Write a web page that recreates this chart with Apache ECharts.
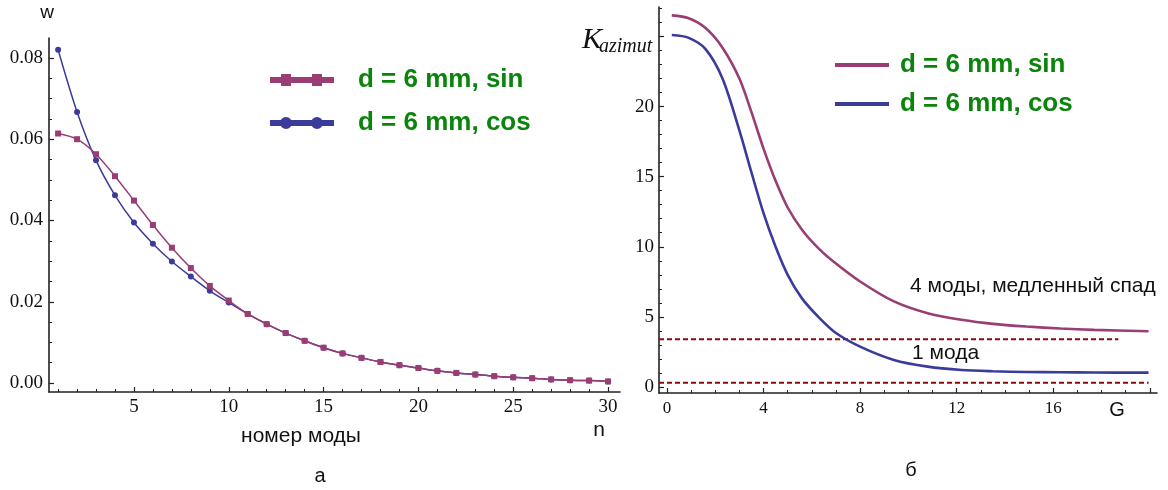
<!DOCTYPE html>
<html>
<head>
<meta charset="utf-8">
<script src="https://cdn.jsdelivr.net/npm/echarts@6/dist/echarts.min.js"></script>
<style>
html,body{margin:0;padding:0;background:#fff;}
#chart{width:1168px;height:490px;}
</style>
</head>
<body>
<div id="chart"></div>
<script>
// ---- Left panel (а): w vs mode number n ----
const modeN = [1,2,3,4,5,6,7,8,9,10,11,12,13,14,15,16,17,18,19,20,21,22,23,24,25,26,27,28,29,30];
const wSin = [0.0614,0.0600,0.0563,0.0509,0.0449,0.0389,0.0333,0.0283,0.0239,0.0203,0.0170,0.0145,0.0123,0.0104,0.0087,0.0073,0.0062,0.0052,0.0044,0.0037,0.0030,0.0025,0.0021,0.0017,0.0014,0.0012,0.0009,0.0007,0.0006,0.0004];
const wCos = [0.0820,0.0667,0.0548,0.0462,0.0395,0.0343,0.0299,0.0262,0.0227,0.0198,0.0170,0.0145,0.0123,0.0104,0.0087,0.0073,0.0062,0.0052,0.0044,0.0037,0.0030,0.0025,0.0021,0.0017,0.0014,0.0012,0.0009,0.0007,0.0006,0.0004];
const leftXTicks = [5,10,15,20,25,30];
const leftYTicks = [0,0.02,0.04,0.06,0.08];

// ---- Right panel (б): K_azimut vs G ----
const gVals = [0.2,0.9,1.6,2.3,3.0,3.5,4.0,4.5,5.0,5.6,6.3,7.0,8.0,9.4,10.8,12.2,13.5,14.9,16.3,17.7,19.95];
const kSin = [26.5,26.3,25.6,24.2,22.0,19.6,17.0,14.7,12.8,11.2,9.85,8.8,7.52,6.1,5.26,4.79,4.5,4.31,4.17,4.07,3.97];
const kCos = [25.1,24.9,24.1,22.0,18.3,15.3,12.4,10.0,8.0,6.3,4.95,3.85,2.88,1.93,1.45,1.21,1.12,1.07,1.05,1.03,1.02];
const thresholdK = [3.4, 0.3];
const thresholdEndG = [18.7, 19.95];
const rightXTicks = [0,4,8,12,16];
const rightYTicks = [0,5,10,15,20];

const nameSin = 'd = 6 mm, sin';
const nameCos = 'd = 6 mm, cos';

const cMag = '#993d74';
const cBlue = '#3b3b9c';
const cGreen = '#0b840b';
const cRed = '#8b0a0a';
const axisCol = '#222';
const serif = '"Liberation Serif", "DejaVu Serif", serif';
const sans = '"Liberation Sans", Arial, sans-serif';

function range(a, b, step){ const r=[]; for(let v=a; v<=b+1e-9; v+=step) r.push(+v.toFixed(6)); return r; }
const leftXMinor = range(1,30,1).filter(v => v % 5 !== 0);
const leftYMinor = range(0,0.08,0.005).filter(v => Math.abs(v/0.02 - Math.round(v/0.02)) > 1e-6);
const rightXMajorTicks = range(0,20,4);
const rightXMinor = range(0,20,1).filter(v => v % 4 !== 0);
const rightYMajorTicks = range(0,25,5);
const rightYMinor = range(0,27,1).filter(v => v % 5 !== 0);

const lx = {min:0.52, max:30.63};
const ly = {min:-0.0022, max:0.0849};
const rx = {min:-0.33, max:20.3};
const ry = {min:-0.43, max:27.1};

function mainAxis(gridIndex, lim, ticks, labelTicks, fontSize, margin, fmt, pos){
  return {
    type:'value', gridIndex, position:pos, min:lim.min, max:lim.max,
    axisLine:{show:true, onZero:false, lineStyle:{color:axisCol, width:1.6}},
    axisTick:{show:true, inside:true, length:5, customValues:ticks, lineStyle:{color:axisCol, width:1.2}},
    axisLabel:{show:true, customValues:labelTicks, margin, color:'#111', fontFamily:serif, fontSize, formatter:fmt},
    splitLine:{show:false}, minorTick:{show:false}
  };
}
function minorAxis(gridIndex, lim, ticks, pos){
  return {
    type:'value', gridIndex, position:pos, min:lim.min, max:lim.max,
    axisLine:{show:false, onZero:false},
    axisTick:{show:true, inside:true, length:3, customValues:ticks, lineStyle:{color:axisCol, width:1}},
    axisLabel:{show:false}, splitLine:{show:false}
  };
}

const sqIcon = 'path://M0,3H64V9H0Z M11,0H21V12H11Z M42,0H52V12H42Z';
const ciIcon = 'path://M0,3H64V9H0Z M10,6A6,6,0,1,1,22,6A6,6,0,1,1,10,6Z M41,6A6,6,0,1,1,53,6A6,6,0,1,1,41,6Z';

const option = {
  animation:false,
  backgroundColor:'#fff',
  grid:[
    {left:49, top:38, width:571, height:354},
    {left:659, top:7, width:498, height:386}
  ],
  xAxis:[
    mainAxis(0, lx, leftXTicks, leftXTicks, 19, 6, v => String(v), 'bottom'),
    minorAxis(0, lx, leftXMinor, 'bottom'),
    mainAxis(1, rx, rightXMajorTicks, rightXTicks, 17, 7, v => String(v), 'bottom'),
    minorAxis(1, rx, rightXMinor, 'bottom')
  ],
  yAxis:[
    mainAxis(0, ly, leftYTicks, leftYTicks, 19, 6, v => v.toFixed(2), 'left'),
    minorAxis(0, ly, leftYMinor, 'left'),
    mainAxis(1, ry, rightYMajorTicks, rightYTicks, 19, 5, v => String(v), 'left'),
    minorAxis(1, ry, rightYMinor, 'left')
  ],
  legend:[
    {
      left:270, top:65, padding:0, orient:'vertical', itemWidth:64, itemHeight:12, itemGap:13, selectedMode:false,
      data:[{name:nameSin, icon:sqIcon},{name:nameCos, icon:ciIcon}],
      textStyle:{color:cGreen, fontWeight:'bold', fontSize:26, fontFamily:sans, lineHeight:30, padding:[0,0,0,19]}
    },
    {
      left:835, top:50, padding:0, orient:'vertical', itemWidth:54, itemHeight:4, itemGap:9, selectedMode:false,
      data:[{name:nameSin, icon:'rect'},{name:nameCos, icon:'rect'}],
      textStyle:{color:cGreen, fontWeight:'bold', fontSize:26, fontFamily:sans, lineHeight:30, padding:[0,0,0,6]}
    }
  ],
  series:[
    {
      name:nameCos, type:'line', xAxisIndex:0, yAxisIndex:0, smooth:0.3,
      data:modeN.map((n,i)=>[n,wCos[i]]),
      symbol:'circle', symbolSize:6, showSymbol:true,
      lineStyle:{color:cBlue, width:1.5}, itemStyle:{color:cBlue}
    },
    {
      name:nameSin, type:'line', xAxisIndex:0, yAxisIndex:0, smooth:0.3,
      data:modeN.map((n,i)=>[n,wSin[i]]),
      symbol:'rect', symbolSize:6, showSymbol:true,
      lineStyle:{color:cMag, width:1.5}, itemStyle:{color:cMag}
    },
    {
      name:'thr', type:'line', xAxisIndex:2, yAxisIndex:2, showSymbol:false, silent:true,
      data:[[rx.min, thresholdK[0]],[thresholdEndG[0], thresholdK[0]]],
      lineStyle:{color:cRed, width:2, type:[5,3]}
    },
    {
      name:'thr2', type:'line', xAxisIndex:2, yAxisIndex:2, showSymbol:false, silent:true,
      data:[[rx.min, thresholdK[1]],[thresholdEndG[1], thresholdK[1]]],
      lineStyle:{color:cRed, width:2, type:[5,3]}
    },
    {
      name:nameSin, type:'line', xAxisIndex:2, yAxisIndex:2, smooth:0.3, showSymbol:false,
      data:gVals.map((g,i)=>[g,kSin[i]]),
      lineStyle:{color:cMag, width:2.6}, itemStyle:{color:cMag}
    },
    {
      name:nameCos, type:'line', xAxisIndex:2, yAxisIndex:2, smooth:0.3, showSymbol:false,
      data:gVals.map((g,i)=>[g,kCos[i]]),
      lineStyle:{color:cBlue, width:2.6}, itemStyle:{color:cBlue}
    }
  ],
  graphic:[
    {type:'text', style:{text:'w', x:47, y:13, align:'center', verticalAlign:'middle', font:'19px '+sans, fill:'#111'}},
    {type:'text', style:{text:'номер моды', x:301, y:436, align:'center', verticalAlign:'middle', font:'21px '+sans, fill:'#111'}},
    {type:'text', style:{text:'n', x:599, y:430, align:'center', verticalAlign:'middle', font:'21px '+sans, fill:'#111'}},
    {type:'text', style:{text:'а', x:320, y:476, align:'center', verticalAlign:'middle', font:'20px '+sans, fill:'#111'}},
    {type:'text', style:{text:'б', x:911, y:470, align:'center', verticalAlign:'middle', font:'20px '+sans, fill:'#111'}},
    {type:'text', style:{text:'G', x:1117, y:410, align:'center', verticalAlign:'middle', font:'20px '+sans, fill:'#111'}},
    {type:'text', style:{text:'K', x:582, y:40, align:'left', verticalAlign:'middle', font:'italic 30px '+serif, fill:'#111'}},
    {type:'text', style:{text:'azimut', x:599, y:47, align:'left', verticalAlign:'middle', font:'italic 20px '+serif, fill:'#111'}},
    {type:'text', style:{text:'4 моды, медленный спад', x:910, y:286, align:'left', verticalAlign:'middle', font:'21px '+sans, fill:'#111'}},
    {type:'text', style:{text:'1 мода', x:912, y:353, align:'left', verticalAlign:'middle', font:'21px '+sans, fill:'#111'}}
  ]
};

const chart = echarts.init(document.getElementById('chart'), null, {renderer:'canvas'});
chart.setOption(option);
</script>
</body>
</html>
